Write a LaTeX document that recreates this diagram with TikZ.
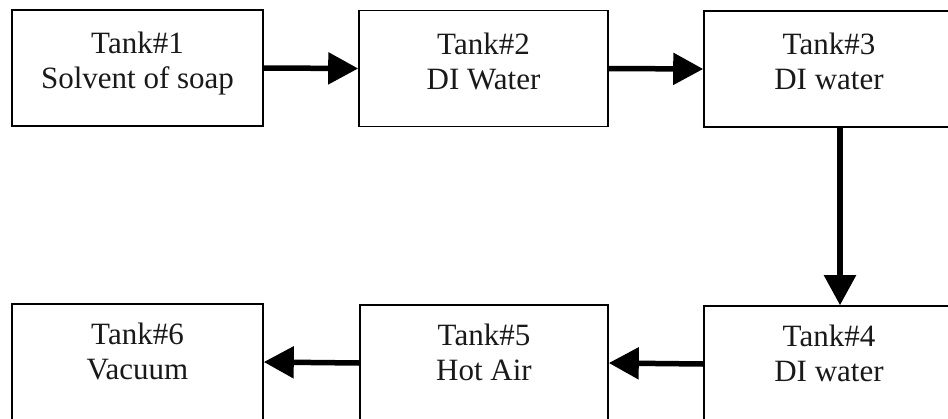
\documentclass[tikz,border=0pt]{standalone}
\usepackage{fontspec}
\setmainfont{Liberation Serif}
\usetikzlibrary{arrows.meta}
\begin{document}
\begin{tikzpicture}[x=1pt,y=-1pt,
  tank/.style={draw, line width=1.6pt, minimum width=#1, minimum height=116pt, inner sep=0pt},
  tanktext/.style={anchor=north, align=center, inner sep=0pt, font=\fontsize{31}{35}\selectfont, text=black!90},
  flow/.style={line width=5.5pt, -{Triangle[length=30pt,width=31pt]}}]
\useasboundingbox (0,0) rectangle (948,418);
\clip (0,0) rectangle (948,418);
\fill[white] (0,0) rectangle (948,418);
\node[tank=251pt] (b1) at (137.5,68) {};
\node[tank=249pt] (b2) at (483.5,68.5) {};
\node[tank=250pt] (b3) at (829,69) {};
\node[tank=250pt] (b4) at (829,364) {};
\node[tank=248pt] (b5) at (484,363) {};
\node[tank=251pt] (b6) at (137.5,362) {};
\node[tanktext] (t1) at ([yshift=-23pt]b1.north) {Tank\#1\\Solvent of soap};
\node[tanktext] (t2) at ([yshift=-23pt]b2.north) {Tank\#2\\DI Water};
\node[tanktext] (t3) at ([yshift=-23pt]b3.north) {Tank\#3\\DI water};
\node[tanktext] (t4) at ([yshift=-20pt]b4.north) {Tank\#4\\DI water};
\node[tanktext] (t5) at ([yshift=-20pt]b5.north) {Tank\#5\\Hot Air};
\node[tanktext] (t6) at ([yshift=-20pt]b6.north) {Tank\#6\\Vacuum};
\draw[flow] (b1.east) -- (b2.west);
\draw[flow] (b2.east) -- (b3.west);
\draw[flow] ([xshift=11pt]b3.south) -- ([xshift=11pt]b4.north);
\draw[flow] (b4.west) -- (b5.east);
\draw[flow] (b5.west) -- (b6.east);
\end{tikzpicture}
\end{document}
